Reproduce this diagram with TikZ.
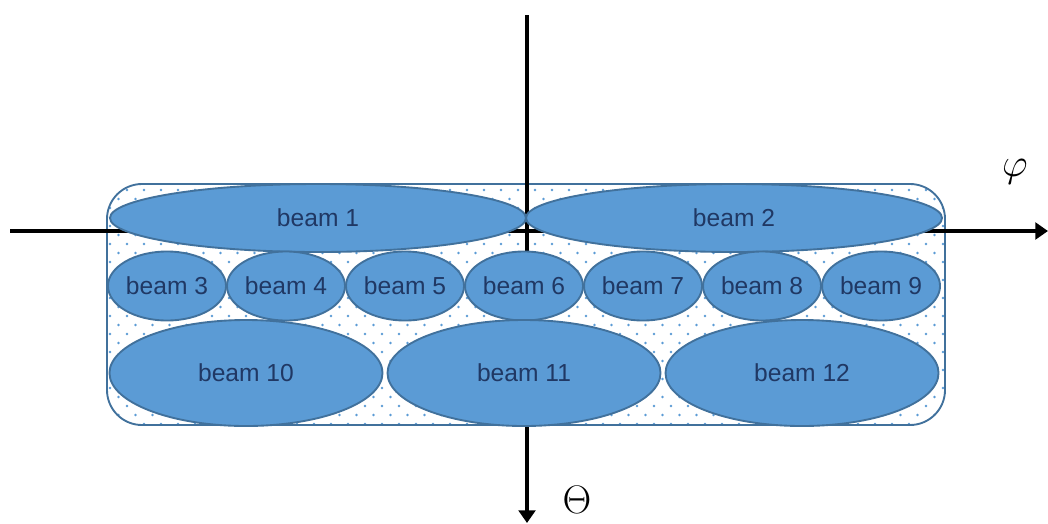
\RequirePackage{fix-cm}
\documentclass[tikz,border=0pt]{standalone}
\usepackage{fontspec}
\setmainfont{Liberation Sans}
\usetikzlibrary{positioning,shapes.geometric,arrows.meta}

\definecolor{beamfill}{HTML}{5B9BD5}
\definecolor{beamline}{HTML}{41719C}
\definecolor{beamtext}{HTML}{203864}

\tikzstyle{beam} = [ellipse, inner sep=0pt, outer sep=0pt, draw=beamline, line width=1.6pt, fill=beamfill, text=beamtext, font=\fontsize{21}{25}\selectfont]
\tikzstyle{beamwide} = [beam, minimum width=12.48cm, minimum height=2.04cm]
\tikzstyle{beamsmall} = [beam, minimum width=3.54cm, minimum height=2.07cm]
\tikzstyle{beambig} = [beam, minimum width=8.19cm, minimum height=3.18cm]
\tikzstyle{axis} = [line width=4.2pt, -{Triangle[length=0.38cm,width=0.5cm]}]
\tikzstyle{axislabel} = [font=\fontsize{34}{38}\selectfont]

\begin{document}
\begin{tikzpicture}[x=0.03cm, y=-0.03cm]
\useasboundingbox (0,0) rectangle (1048,523);
% dotted frame
\fill[white, rounded corners=1.05cm] (107,184) rectangle (945,425);
\begin{scope}
\clip[rounded corners=1.05cm] (107,184) rectangle (945,425);
\foreach \r in {0,...,13} \foreach \c in {0,...,49} {
  \fill[beamfill] (110+\c*17, 190+\r*18) circle (1.1pt);
  \fill[beamfill] (118.5+\c*17, 199+\r*18) circle (1.1pt);
}
\end{scope}
\draw[beamline, line width=1.6pt, rounded corners=1.05cm] (107,184) rectangle (945,425);
% axes
\coordinate (xl) at (10,231);
\coordinate (xr) at (1048,231);
\coordinate (yt) at (527,15);
\coordinate (yb) at (527,523);
\draw [axis] (xl) -- (xr);
\draw [axis] (yt) -- (yb);
\node (phi) [axislabel] at (1015,172) {$\varphi$};
\node (theta) [axislabel] at (577,500) {$\Theta$};
% beams
\node (b1) [beamwide] at (318,218) {beam 1};
\node (b2) [beamwide, right=0pt of b1] {beam 2};
\node (b3) [beamsmall] at (167,286) {beam 3};
\node (b4) [beamsmall, right=0.03cm of b3] {beam 4};
\node (b5) [beamsmall, right=0.03cm of b4] {beam 5};
\node (b6) [beamsmall, right=0.03cm of b5] {beam 6};
\node (b7) [beamsmall, right=0.03cm of b6] {beam 7};
\node (b8) [beamsmall, right=0.03cm of b7] {beam 8};
\node (b9) [beamsmall, right=0.03cm of b8] {beam 9};
\node (b10) [beambig] at (246,373) {beam 10};
\node (b11) [beambig, right=0.15cm of b10] {beam 11};
\node (b12) [beambig, right=0.15cm of b11] {beam 12};
\end{tikzpicture}
\end{document}
